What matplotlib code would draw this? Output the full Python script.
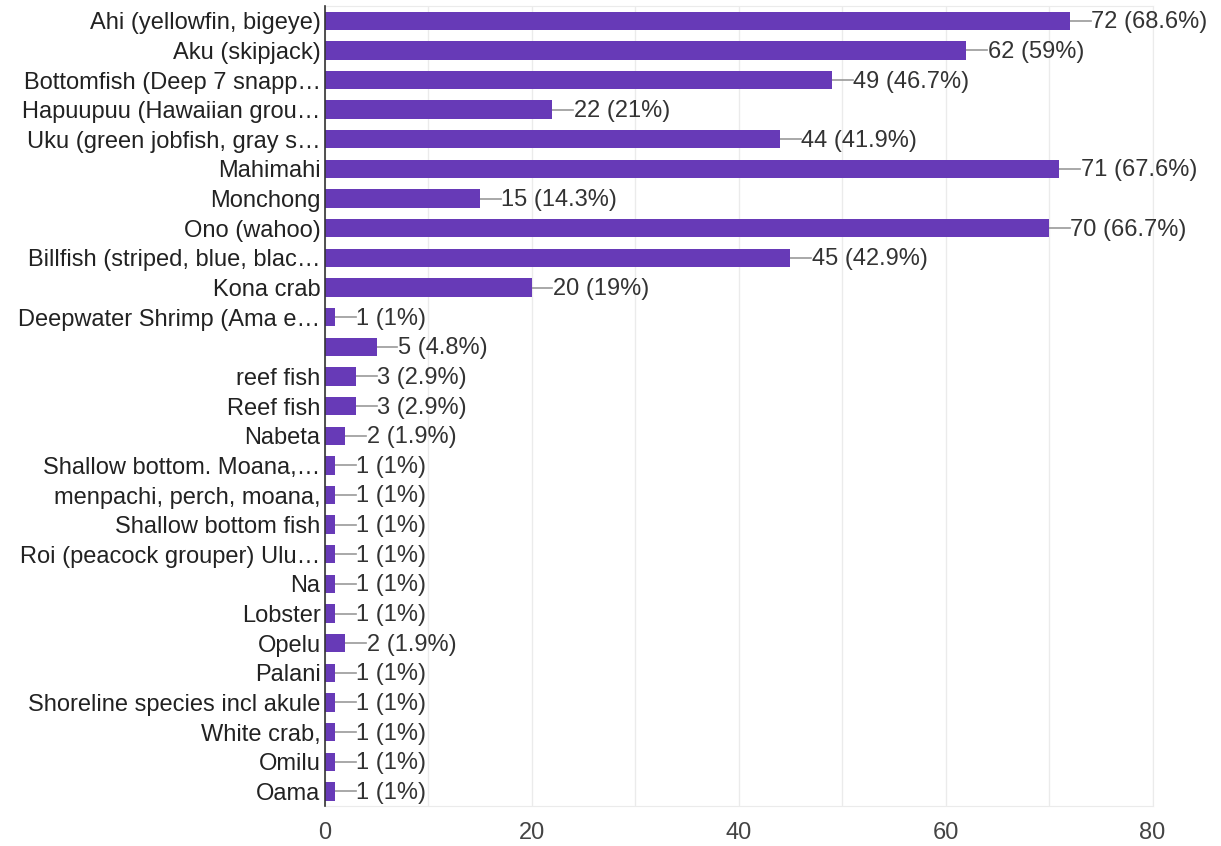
"""Fish species caught - horizontal bar chart."""
import matplotlib.pyplot as plt

plt.rcParams["font.family"] = ["Liberation Sans", "DejaVu Sans"]

labels = [
    "Ahi (yellowfin, bigeye)",
    "Aku (skipjack)",
    "Bottomfish (Deep 7 snapp…",
    "Hapuupuu (Hawaiian grou…",
    "Uku (green jobfish, gray s…",
    "Mahimahi",
    "Monchong",
    "Ono (wahoo)",
    "Billfish (striped, blue, blac…",
    "Kona crab",
    "Deepwater Shrimp (Ama e…",
    "",
    "reef fish",
    "Reef fish",
    "Nabeta",
    "Shallow bottom. Moana,…",
    "menpachi, perch, moana,",
    "Shallow bottom fish",
    "Roi (peacock grouper) Ulu…",
    "Na",
    "Lobster",
    "Opelu",
    "Palani",
    "Shoreline species incl akule",
    "White crab,",
    "Omilu",
    "Oama",
]
counts = [72, 62, 49, 22, 44, 71, 15, 70, 45, 20, 1, 5, 3, 3, 2,
          1, 1, 1, 1, 1, 1, 2, 1, 1, 1, 1, 1]
percents = ["68.6%", "59%", "46.7%", "21%", "41.9%", "67.6%", "14.3%",
            "66.7%", "42.9%", "19%", "1%", "4.8%", "2.9%", "2.9%", "1.9%",
            "1%", "1%", "1%", "1%", "1%", "1%", "1.9%", "1%", "1%", "1%",
            "1%", "1%"]

fig = plt.figure(figsize=(12.21, 8.46), dpi=100)
ax = fig.add_axes([0.266, 0.047, 0.678, 0.946])

ypos = list(range(len(labels)))
ax.barh(ypos, counts, height=0.62, color="#673ab7", zorder=3)

for y, c, p in zip(ypos, counts, percents):
    ax.plot([c, c + 2.0], [y, y], color="#999999", lw=1.2, zorder=2)
    ax.text(c + 2.05, y + 0.05, f"{c} ({p})", va="center", ha="left",
            fontsize=17, color="#333333")

ax.set_yticks(ypos)
ax.set_yticklabels(labels, fontsize=17, color="#222222")
for t in ax.get_yticklabels():
    t.set_va("center_baseline")
ax.set_ylim(len(labels) - 0.5, -0.5)
ax.set_xlim(0, 80)
ax.set_xticks([0, 20, 40, 60, 80])
ax.set_xticks(range(0, 81, 10), minor=True)
ax.tick_params(axis="x", which="both", length=0, labelsize=17,
               labelcolor="#444444", pad=11)
ax.tick_params(axis="y", length=0, pad=3)
ax.grid(axis="x", which="both", color="#ebebeb", lw=1, zorder=0)

for side in ["top", "right", "bottom"]:
    ax.spines[side].set_color("#ebebeb")
ax.spines["left"].set_color("#333333")
ax.spines["left"].set_linewidth(1.2)
ax.spines["left"].set_zorder(4)

fig.savefig("out.png", dpi=100)
